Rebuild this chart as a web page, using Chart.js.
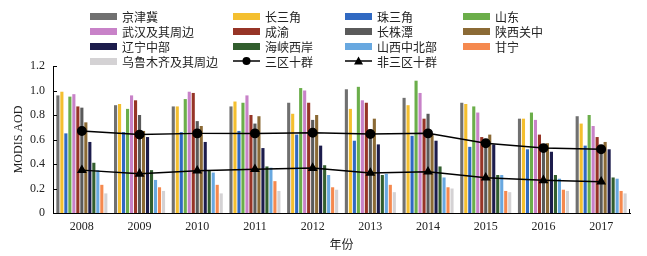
<!DOCTYPE html>
<html>
<head>
<meta charset="utf-8">
<script src="https://cdn.jsdelivr.net/npm/chart.js@4"></script>
<style>
  body { margin: 0; background: #fff; }
  #wrap { position: relative; width: 647px; height: 256px; }
  #legend { position: absolute; left: 0; top: 0; width: 647px; height: 70px; font-family: "Noto Sans CJK SC", sans-serif; font-size: 12px; color: #222; }
  .item { position: absolute; display: flex; align-items: center; height: 14px; white-space: nowrap; }
  .sw { width: 27px; height: 7px; margin-right: 5px; }
  .ln { width: 27px; height: 14px; margin-right: 5px; }
</style>
</head>
<body>
<div id="wrap">
  <canvas id="aodChart" width="647" height="256"></canvas>
  <div id="legend"></div>
</div>
<script>
const years = ['2008', '2009', '2010', '2011', '2012', '2013', '2014', '2015', '2016', '2017'];
const regionNames = ['京津冀', '长三角', '珠三角', '山东', '武汉及其周边', '成渝', '长株潭', '陕西关中', '辽宁中部', '海峡西岸', '山西中北部', '甘宁', '乌鲁木齐及其周边'];
const regionColors = ['#707070', '#f4bf2f', '#3069c2', '#6bae4a', '#c882c8', '#963426', '#5a5a5a', '#8b6a35', '#1c1c4c', '#325e2e', '#68a8e0', '#f5894e', '#d4d2d4'];

// AOD per region, 2008-2017
const jingjinji = [0.96, 0.88, 0.87, 0.87, 0.90, 1.01, 0.94, 0.90, 0.77, 0.79];
const changsanjiao = [0.99, 0.89, 0.87, 0.91, 0.81, 0.85, 0.88, 0.89, 0.77, 0.73];
const zhusanjiao = [0.65, 0.66, 0.66, 0.67, 0.64, 0.59, 0.63, 0.54, 0.52, 0.55];
const shandong = [0.95, 0.85, 0.93, 0.90, 1.02, 1.03, 1.08, 0.87, 0.82, 0.80];
const wuhan = [0.97, 0.96, 0.99, 0.96, 1.00, 0.92, 0.98, 0.82, 0.76, 0.71];
const chengyu = [0.87, 0.92, 0.98, 0.80, 0.90, 0.90, 0.77, 0.62, 0.64, 0.62];
const changzhutan = [0.86, 0.80, 0.75, 0.73, 0.76, 0.68, 0.81, 0.59, 0.53, 0.52];
const shaanxi = [0.74, 0.67, 0.71, 0.79, 0.80, 0.77, 0.64, 0.64, 0.57, 0.58];
const liaoning = [0.58, 0.62, 0.58, 0.53, 0.55, 0.56, 0.59, 0.56, 0.50, 0.52];
const haixia = [0.41, 0.35, 0.35, 0.38, 0.39, 0.31, 0.38, 0.31, 0.31, 0.29];
const shanxi = [0.35, 0.27, 0.33, 0.37, 0.31, 0.32, 0.29, 0.31, 0.28, 0.28];
const ganning = [0.23, 0.21, 0.23, 0.26, 0.21, 0.23, 0.21, 0.18, 0.19, 0.18];
const wulumuqi = [0.16, 0.18, 0.16, 0.18, 0.19, 0.17, 0.20, 0.17, 0.18, 0.16];
const regionValues = [jingjinji, changsanjiao, zhusanjiao, shandong, wuhan, chengyu, changzhutan, shaanxi, liaoning, haixia, shanxi, ganning, wulumuqi];

const sanquShiqun = [0.67, 0.64, 0.65, 0.65, 0.655, 0.645, 0.65, 0.57, 0.53, 0.52];
const feiSanquShiqun = [0.35, 0.32, 0.345, 0.357, 0.367, 0.327, 0.337, 0.288, 0.267, 0.256];
const yTicks = [0, 0.2, 0.4, 0.6, 0.8, 1.0, 1.2];

const serif = '"Liberation Serif", "Times New Roman", serif';

const datasets = regionNames.map((name, i) => ({
    type: 'bar',
    label: name,
    data: regionValues[i],
    backgroundColor: regionColors[i],
    categoryPercentage: 0.9,
    barPercentage: 0.78,
    order: 2
}));
datasets.push({
    type: 'line', label: '三区十群', data: sanquShiqun,
    borderColor: '#000', backgroundColor: '#000', borderWidth: 1.5,
    pointStyle: 'circle', pointRadius: 4.2, order: 0
});
datasets.push({
    type: 'line', label: '非三区十群', data: feiSanquShiqun,
    borderColor: '#000', backgroundColor: '#000', borderWidth: 1.5,
    pointStyle: 'triangle', pointRadius: 4.2, order: 0
});

// inward ticks on the y axis and end tick on x axis
const axisTicks = {
    id: 'axisTicks',
    afterDraw(chart) {
        const { ctx, scales: { x, y }, chartArea } = chart;
        ctx.save();
        ctx.strokeStyle = '#000';
        ctx.lineWidth = 1;
        ctx.beginPath();
        yTicks.forEach(v => {
            const py = Math.round(y.getPixelForValue(v)) + 0.5;
            ctx.moveTo(chartArea.left, py);
            ctx.lineTo(chartArea.left + 4, py);
        });
        const rx = Math.round(chartArea.right) - 0.5;
        ctx.moveTo(rx, chartArea.bottom);
        ctx.lineTo(rx, chartArea.bottom - 4);
        ctx.stroke();
        ctx.restore();
    }
};

const chart = new Chart(document.getElementById('aodChart').getContext('2d'), {
    data: { labels: years, datasets: datasets },
    options: {
        responsive: false,
        animation: false,
        layout: { padding: { top: 66, right: 17, left: 0, bottom: 0 } },
        plugins: { legend: { display: false }, tooltip: { enabled: false } },
        scales: {
            x: {
                grid: { display: false, drawTicks: false },
                border: { color: '#000', width: 1 },
                ticks: { color: '#222', font: { family: serif, size: 12 }, padding: 7 },
                title: { display: true, text: '年份', color: '#222', font: { family: '"Noto Sans CJK SC", sans-serif', size: 12 }, padding: { top: 1 } },
                afterFit: (s) => { s.height = 43; }
            },
            y: {
                min: 0, max: 1.2,
                afterBuildTicks: (s) => { s.ticks = yTicks.map(v => ({ value: v })); },
                grid: { display: false, drawTicks: false },
                border: { color: '#000', width: 1 },
                ticks: {
                    color: '#222', font: { family: serif, size: 12 }, padding: 8,
                    callback: (v) => v === 0 ? '0' : v.toFixed(1)
                },
                title: { display: true, text: 'MODIS AOD', color: '#222', font: { family: serif, size: 12 }, padding: { top: 12, bottom: 2 } },
                afterFit: (s) => { s.width = 53; }
            }
        }
    },
    plugins: [axisTicks]
});

// legend laid out in four fixed columns
const legendCols = [90, 233, 345, 463];
const legendRows = [16, 31, 46, 61];
const legendEl = document.getElementById('legend');
chart.data.datasets.forEach((ds, i) => {
    const item = document.createElement('div');
    item.className = 'item';
    item.style.left = legendCols[i % 4] + 'px';
    item.style.top = (legendRows[Math.floor(i / 4)] - 7) + 'px';
    if (ds.type === 'bar') {
        const sw = document.createElement('span');
        sw.className = 'sw';
        sw.style.background = ds.backgroundColor;
        item.appendChild(sw);
    } else {
        const c = document.createElement('canvas');
        c.width = 27; c.height = 14; c.className = 'ln';
        const g = c.getContext('2d');
        g.strokeStyle = '#000'; g.fillStyle = '#000'; g.lineWidth = 1.5;
        g.beginPath(); g.moveTo(0, 7); g.lineTo(27, 7); g.stroke();
        g.beginPath();
        if (ds.pointStyle === 'circle') {
            g.arc(13.5, 7, 4, 0, Math.PI * 2);
        } else {
            g.moveTo(13.5, 2.5); g.lineTo(18, 10.5); g.lineTo(9, 10.5); g.closePath();
        }
        g.fill();
        item.appendChild(c);
    }
    const t = document.createElement('span');
    t.textContent = ds.label;
    item.appendChild(t);
    legendEl.appendChild(item);
});
</script>
</body>
</html>
